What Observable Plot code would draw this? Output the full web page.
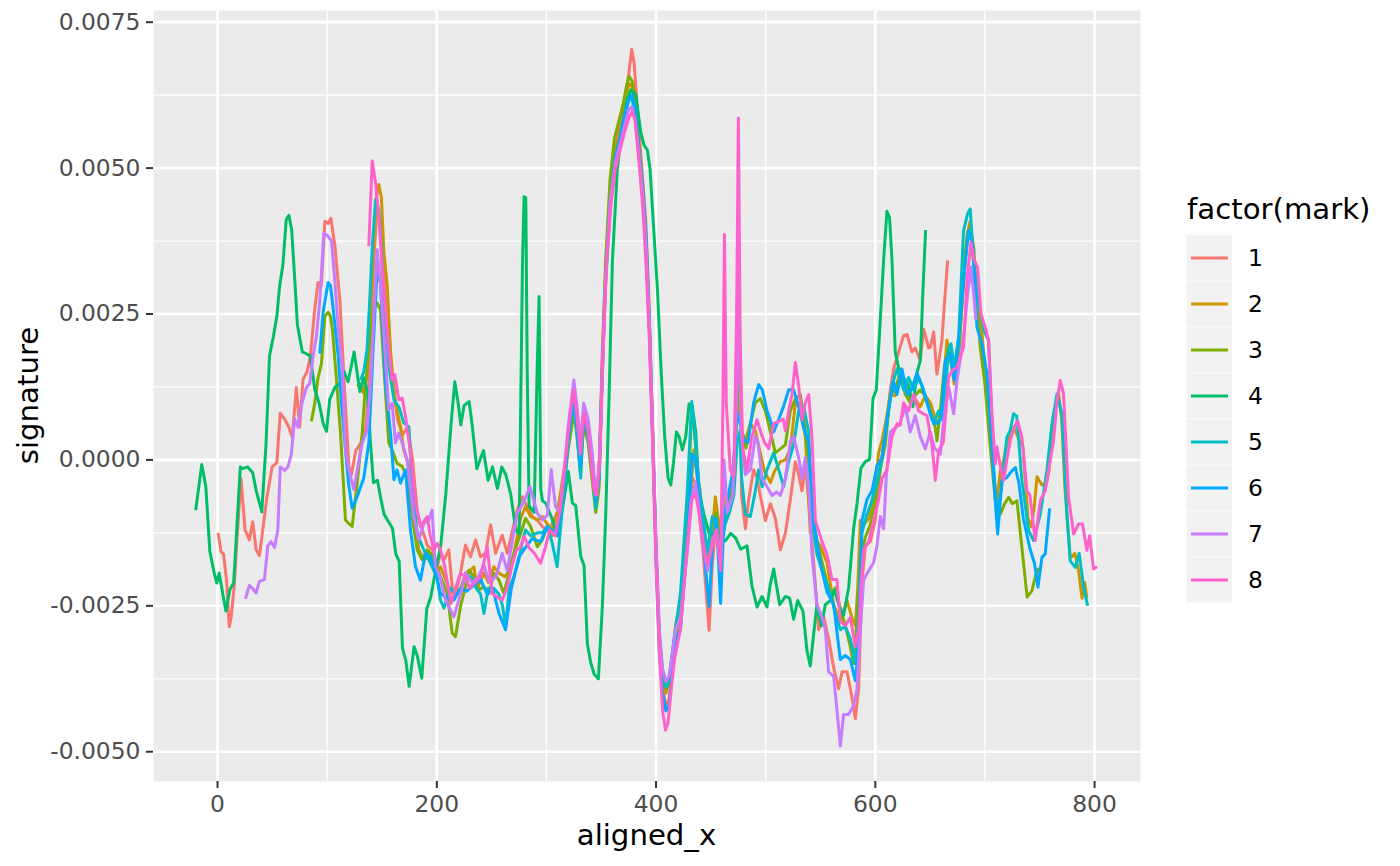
<!DOCTYPE html>
<html><head><meta charset="utf-8">
<script src="https://cdn.jsdelivr.net/npm/d3@7"></script>
<script src="https://cdn.jsdelivr.net/npm/@observablehq/plot@0.6"></script>
<style>
body{margin:0;background:#fff;}
svg{font-family:"DejaVu Sans",sans-serif;}
</style>
</head><body><div id="chart"></div>
<script>
// categories and colours
const marks = ["1","2","3","4","5","6","7","8"];
const colors = ["#F8766D","#CD9600","#7CAE00","#00BE67","#00BFC4","#00A9FF","#C77CFF","#FF61CC"];

// series values: [aligned_x, signature in units of 1e-3]
const mark1 = [[0.6,-1.25],[3.1,-1.57],[5.5,-1.61],[8.3,-2.08],[10.7,-2.86],[12.5,-2.69],[15.3,-2.15],[18.3,-1.2],[21.4,-0.32],[25.1,-1.2],[29,-1.37],[32.1,-1.06],[35.2,-1.54],[38.2,-1.64],[41.3,-1.2],[44.9,-0.66],[49.8,-0.12],[54.1,-0.05],[57.2,0.8],[61.2,0.7],[65.1,0.56],[68.2,0.39],[71.9,1.24],[74.9,0.56],[78,1.38],[81.7,1.51],[84.7,1.78],[88.7,2.59],[91.7,3.04],[94.8,3.0],[97.9,4.09],[100.9,4.05],[103.4,4.14],[107,3.68],[111.6,2.73],[116.2,1.1],[119.8,-0.11],[122.2,-0.25],[126.1,0.16],[130.7,0.29],[135.3,0.56],[139.2,1.65],[142.5,3.4],[145.5,4.3],[148.5,4.1],[152,3.2],[155,2.59],[159.6,1.38],[164.1,0.7],[168.7,0.43],[173.3,0.56],[177.8,0.02],[182.4,-0.93],[186.9,-1.2],[191.5,-1.47],[196,-1.54],[200.6,-1.81],[203.4,-1.6],[207,-1.7],[211,-1.54],[214.3,-2.22],[217.1,-2.29],[221.6,-1.94],[226.2,-1.46],[230.8,-1.66],[235.4,-1.37],[239.9,-1.66],[244.5,-1.6],[249.1,-1.11],[253.6,-1.6],[259.7,-1.29],[264.3,-1.6],[268.8,-1.23],[273.4,-0.86],[278,-0.63],[282.5,-0.8],[287.1,-0.97],[291.7,-1.03],[296.2,-1.14],[300.8,-1.2],[305,-1.1],[310,-0.9],[315,-0.4],[320,0.4],[325,1.1],[328,0.6],[331,-0.1],[334,0.8],[338,0.5],[342,-0.2],[345,-0.7],[348,-0.2],[351,1.9],[354,3.3],[358,4.6],[363,5.4],[367,5.7],[371,6.1],[375,6.6],[377.8,7.03],[380,6.8],[383,6.0],[387,5.0],[390.6,4.1],[393.6,2.7],[396.7,0.6],[399.7,-1.4],[402.7,-3.0],[405.8,-3.9],[408.8,-4.2],[411.9,-4.1],[414.9,-3.5],[418,-3.2],[422.3,-2.8],[428.4,-1.5],[433,-0.3],[436,-0.4],[439.2,-0.9],[443,-1.6],[448.4,-2.92],[451.3,-1.8],[455,-1.0],[458.9,-1.5],[462,-0.4],[466,-0.9],[470,-0.5],[474,1.2],[476.5,2.0],[478,-0.6],[481.5,-1.18],[484.5,-0.68],[489,-0.17],[492,-0.3],[495.1,-0.61],[499.7,-1.04],[504.3,-0.75],[508.8,-1.0],[513.4,-1.54],[518,-1.25],[522.5,-0.68],[527.1,-0.03],[530.1,-0.25],[533.1,-0.53],[536.2,-0.1],[539.2,-0.68],[543.8,-1.76],[548.3,-2.91],[552.9,-2.69],[557.4,-3.06],[562,-3.56],[566.6,-3.92],[569.6,-3.63],[574.2,-3.63],[578.7,-4.07],[581.8,-4.43],[584.8,-3.92],[587.8,-2.12],[590.9,-1.47],[595.4,-1.4],[600,-1.04],[604.6,-0.1],[609.1,0.4],[613.7,1.2],[616.7,1.56],[621.3,1.85],[625.8,2.13],[629,2.15],[633.4,1.85],[636.5,1.92],[641,1.7],[644.1,2.24],[648.6,1.92],[650.2,1.93],[653.2,2.19],[656.2,1.47],[660.8,2.05],[663.5,2.8],[666,3.42]];

const mark2 = [[127.4,1.26],[130,1.3],[133,1.15],[136,1.4],[139,2.2],[142,3.6],[145,4.5],[147.1,4.72],[149.5,4.5],[151.7,3.57],[154.8,2.99],[157.8,1.84],[162.3,0.97],[166.9,0.57],[169.9,0.17],[174.5,-0.11],[179,-0.68],[183.6,-1.54],[188.1,-1.71],[194.2,-1.66],[200.3,-1.89],[203.4,-1.83],[207,-2.0],[212.5,-2.29],[217,-2.2],[221,-2.25],[226.2,-1.94],[230,-1.9],[233.8,-1.83],[237,-2.2],[243,-1.94],[247,-2.1],[252.1,-1.83],[256.7,-1.94],[262,-2.0],[266,-1.9],[270.4,-1.6],[276.5,-1.0],[281,-0.8],[285.6,-0.97],[291.7,-1.03],[296.2,-0.97],[300.8,-1.1],[305,-1.2],[310,-0.9],[315,-0.3],[320,0.3],[325,0.9],[328,0.5],[331,0.1],[334,0.7],[338,0.4],[342,-0.3],[345,-0.8],[348,-0.4],[351,1.6],[354,3.2],[358,4.5],[363,5.3],[367,5.6],[371,6.0],[375,6.45],[378,6.4],[381,6.1],[384,5.4],[388,4.7],[391,3.8],[394,2.3],[397,0.4],[400,-1.5],[403,-3.0],[406,-3.7],[409,-4.0],[412,-3.8],[415,-3.3],[418,-2.8],[422,-2.5],[428,-1.4],[434.5,0.17],[437,-0.2],[440,-0.5],[444,-1.3],[448,-1.8],[451,-1.3],[454.1,-0.63],[458,-1.2],[462,-0.7],[466,-0.8],[470,-0.3],[474,0.8],[476.5,1.2],[478,0.4],[481,0.3],[486,0.62],[490.6,0.5],[495.1,0.12],[499,-0.2],[504.3,-0.39],[508,-0.2],[513.4,-0.03],[518,0.0],[522.5,0.19],[527.1,0.98],[531,0.9],[536.2,0.4],[540.7,-1.25],[545,-1.35],[549.8,-1.47],[555.9,-1.76],[562,-2.48],[568.1,-2.77],[574.2,-2.41],[578.7,-2.7],[581.8,-2.84],[584,-2.2],[586.3,-1.04],[590,-1.1],[594,-1.0],[598.5,-0.61],[603,0.12],[606.1,0.33],[610,0.7],[613.7,1.12],[618,1.1],[622.8,1.56],[627,1.3],[631.9,0.98],[636,1.05],[641,0.91],[645.6,1.1],[650.2,0.98],[656.2,0.62],[660,0.75],[665.3,2.05],[669,1.7],[672,1.3],[676,1.9],[680.5,3.0],[683,3.7],[686,4.07],[689,3.5],[692,3.0],[695.7,2.5],[700.3,1.53],[704.9,0.45],[708,-0.3],[711,-0.7],[714,-0.2],[717,0.0],[720,0.27],[726.1,0.56],[730,0.4],[734.7,0.22],[737,-0.4],[739.3,-1.0],[742.4,-1.15],[745,-0.8],[747.5,-0.29],[752,-0.43],[756,-0.41],[758.5,-0.18],[762.6,0.79],[767.2,1.13],[770,0.7],[773,-0.5],[777.8,-1.67],[779.4,-1.66],[782,-1.6],[785.4,-1.9],[788.6,-2.37],[791,-2.1],[793,-2.37]];

const mark3 = [[85.6,0.66],[88.7,0.97],[91.7,1.41],[94.8,1.65],[97.9,2.46],[100.9,2.53],[103,2.46],[105,2.2],[107.6,1.6],[112.2,0.46],[116.7,-1.03],[119.8,-1.09],[122.8,-1.14],[127.4,-0.4],[132,0.46],[135,1.31],[139.6,2.17],[142.5,2.6],[145.6,2.69],[148.6,2.57],[151.7,1.6],[156.2,0.29],[159.3,0.17],[163.8,-0.06],[168.4,-0.11],[173,-0.29],[177.5,-0.97],[182.1,-1.54],[186.6,-1.71],[191.2,-1.54],[197.3,-1.66],[203.4,-2.0],[209.5,-2.29],[214.1,-2.97],[217.1,-3.03],[221.6,-2.51],[226.2,-2.17],[229.3,-1.89],[233.8,-2.0],[238.4,-2.23],[243,-2.17],[247.5,-2.29],[252.1,-1.94],[256.7,-2.06],[261.2,-2.29],[265.8,-1.94],[270.4,-1.6],[276.5,-1.26],[281,-1.0],[285.6,-1.14],[291.7,-1.49],[296.2,-1.37],[300.8,-1.14],[305,-1.3],[310,-1.1],[315,-0.6],[320,0.2],[325,0.8],[328,0.4],[331,-0.2],[334,0.6],[338,0.3],[342,-0.4],[345,-0.9],[348,-0.5],[351,1.7],[354,3.4],[358,4.8],[362,5.5],[366,5.8],[370,6.1],[373,6.4],[375.4,6.57],[378,6.5],[381,6.2],[384,5.5],[388,4.6],[391,3.6],[394,2.2],[397,0.3],[400,-1.6],[403,-3.0],[406,-3.6],[409,-3.8],[413.4,-3.87],[416,-3.4],[419,-2.9],[422.3,-2.5],[428,-1.2],[432.6,0.9],[435,0.5],[439,-0.5],[443,-1.2],[447,-1.6],[451,-1.1],[455,-0.9],[459,-1.5],[463,-1.0],[467,-0.9],[471,-0.2],[474,0.9],[476.5,1.3],[478.5,0.5],[482,0.2],[486,0.62],[490.6,0.98],[495.1,1.05],[499.7,0.84],[504.3,0.48],[508.8,0.12],[513.4,0.19],[518,0.26],[522.5,0.84],[527.1,1.05],[531.6,1.12],[536.2,0.48],[540.7,-0.32],[545.3,-1.25],[549.8,-1.62],[554.4,-1.98],[559,-2.34],[563.5,-2.19],[568.1,-2.55],[572.6,-2.84],[577.2,-3.2],[580.2,-3.49],[583,-2.8],[586.3,-1.69],[590.9,-1.33],[595.4,-1.11],[600,-0.68],[604.6,-0.17],[609.1,0.26],[613.7,1.12],[618,1.2],[622.8,1.49],[627.4,1.12],[631.9,0.98],[636,1.1],[641,1.2],[645.6,1.1],[650.2,0.84],[654.7,0.55],[656.2,0.33],[659.3,0.84],[663,1.6],[666.9,1.93],[670,1.7],[674,1.4],[677,2.0],[680.5,3.2],[684,3.9],[687,4.0],[690,3.6],[693,2.6],[695.7,1.93],[700,1.3],[704,0.4],[708,-0.4],[711,-0.93],[714,-0.93],[718,-0.75],[721.6,-0.64],[725,-0.75],[729.2,-0.7],[733.7,-1.5],[738.5,-2.35],[742.9,-2.24],[746,-2.0],[749,-1.85]];

const mark4 = [[-19.9,-0.86],[-14.4,-0.08],[-10.7,-0.45],[-7,-1.57],[-3,-1.94],[-0.6,-2.11],[1.5,-1.94],[7.6,-2.59],[11.3,-2.22],[14.7,-2.11],[20.8,-0.12],[22.9,-0.15],[27.5,-0.12],[32.1,-0.22],[35.2,-0.52],[40.4,-0.89],[44.3,0.29],[47.4,1.78],[51,2.12],[54.1,2.46],[56.6,2.97],[59.6,3.34],[62.7,4.12],[65.1,4.19],[67.6,3.95],[70.3,3.14],[72.8,2.32],[77.4,1.85],[81,1.82],[84.7,1.78],[88.7,1.21],[92.7,0.97],[96.3,0.63],[99.4,0.49],[102.4,1.04],[107,1.24],[111.6,1.31],[115.5,1.51],[119.1,1.34],[124.6,1.85],[129.8,1.17],[133.1,1.41],[136.8,1.17],[139.5,0.3],[142.2,-0.39],[145.9,-0.35],[148.9,-0.66],[151.9,-0.93],[155,-1.03],[159.6,-1.17],[162.6,-1.61],[165.7,-1.74],[168.7,-3.23],[171.7,-3.43],[174.8,-3.88],[179.3,-3.2],[182.4,-3.37],[186.3,-3.74],[190.9,-2.55],[194.5,-2.35],[199.1,-1.88],[203.6,-1.47],[208.2,-0.59],[212.8,0.56],[216.4,1.34],[219.5,0.97],[221.9,0.6],[224.9,0.93],[229.5,1.0],[232.5,0.56],[236.5,-0.15],[242.6,0.16],[246.8,-0.35],[250.8,-0.12],[255.3,-0.49],[259.3,-0.12],[262.9,-0.25],[267.5,-0.59],[272,-1.2],[275.1,-1.27],[278.1,3.27],[279.6,4.51],[281.2,4.49],[282.5,1.5],[284.2,-0.79],[288.8,-0.9],[291.5,1.5],[293.3,2.8],[294.8,-0.5],[296.4,-0.7],[299.4,-0.74],[305,-1.0],[310,-1.3],[315,-0.8],[320,-0.2],[323.7,-0.74],[326.7,-0.78],[331.3,-1.65],[334.3,-1.81],[337.4,-3.16],[340.4,-3.47],[343.5,-3.67],[347.4,-3.75],[351,-2.52],[354.1,-0.94],[357.1,1.04],[360.2,3.41],[364.7,4.99],[369.3,5.7],[373.9,6.18],[376.9,6.34],[381.5,6.26],[386,5.62],[389.1,5.39],[392.1,5.31],[394.5,4.99],[397.6,4.04],[401.2,2.94],[404.9,1.43],[407.9,0.4],[411,-0.31],[413.4,-0.43],[415.8,-0.07],[418.6,0.48],[421,0.4],[424,0.17],[427.1,0.4],[430.1,0.96],[433.1,0.92],[436.2,0.48],[439.2,-0.55],[443.8,-0.94],[448.4,-1.26],[452.9,-1.26],[459,-1.42],[463.5,-1.38],[468.1,-1.26],[472.7,-1.34],[477.2,-1.53],[483,-1.47],[487.5,-2.16],[492.1,-2.52],[496.7,-2.34],[501.2,-2.52],[504.3,-2.12],[507.3,-1.87],[512.8,-2.48],[518,-2.34],[521.9,-2.37],[525.5,-2.73],[529.2,-2.41],[534,-2.59],[537.7,-3.27],[540.7,-3.53],[543.8,-2.98],[546.8,-2.48],[550.8,-2.84],[554.4,-2.48],[559,-2.41],[562.9,-2.23],[566.6,-2.48],[571.1,-2.66],[575.7,-2.19],[580.2,-1.18],[583.3,-0.75],[586.9,-0.14],[590.9,-0.03],[594.8,0.01],[597.9,1.05],[600.9,1.2],[604.6,2.42],[607.6,3.43],[610.6,4.26],[613,4.15],[615.2,3.43],[618.2,1.85],[622.2,1.49],[625.8,1.41],[630.4,1.27],[634.3,0.91],[638,1.49],[641,1.7],[643.5,2.93],[645.9,3.94]];

const mark5 = [[130.4,1.37],[133.4,1.51],[136.4,1.89],[139,2.8],[141,3.6],[144.1,4.46],[147.1,4.29],[149.5,3.6],[151.7,2.74],[156.2,1.6],[160.9,1.03],[165.4,0.91],[170,0.63],[174.5,0.57],[177.5,-0.4],[182.1,-1.26],[188.1,-1.54],[194.2,-1.77],[200,-2.0],[203.4,-2.4],[206.5,-2.54],[212.5,-2.2],[217,-2.3],[221.6,-2.25],[226,-2.0],[230.8,-2.0],[236,-2.2],[240,-2.3],[243,-2.63],[247,-2.2],[252,-2.2],[256.7,-2.3],[260,-2.5],[262.7,-2.86],[266,-2.2],[270.4,-2.0],[274.9,-1.71],[278,-1.4],[281,-1.2],[285.6,-1.3],[291.7,-1.25],[296.2,-1.25],[300.8,-1.14],[305,-1.4],[309.8,-1.83],[314.3,-0.86],[318,-0.1],[321,0.6],[325,1.15],[328,0.4],[331.3,-0.31],[334.3,0.9],[338,0.6],[342,0.0],[344.8,-0.83],[348,-0.3],[351,1.5],[354,3.0],[358,4.3],[363,5.2],[367,5.5],[371,5.85],[375,6.15],[378,6.2],[381,5.9],[384,5.3],[388,4.6],[391,3.8],[394,2.3],[397,0.4],[400,-1.6],[403,-3.1],[406,-3.7],[409,-3.9],[412,-3.75],[416.2,-3.1],[422.3,-2.29],[428.4,-0.57],[432.6,1.0],[436,0.3],[439,-0.4],[443,-1.0],[446.8,-1.6],[451.3,-0.97],[455,-1.1],[459,-1.6],[463,-1.1],[467,-0.9],[471,-0.6],[474,0.3],[476.5,0.5],[478,-0.3],[481.5,-0.93],[486,-0.97],[490.6,-0.53],[493.6,-0.17],[496.7,-0.46],[501.2,-0.17],[507.3,0.12],[511.9,-0.17],[516.4,-0.46],[521,-0.03],[525.5,0.26],[530.1,0.84],[534.7,0.91],[539.2,0.48],[542.2,-1.04],[546.8,-1.62],[552.9,-1.98],[557.4,-2.19],[563.5,-2.62],[568.1,-2.91],[572.6,-2.85],[577.2,-3.06],[581.8,-3.49],[584.5,-2.8],[587.8,-1.25],[592,-0.95],[596,-0.75],[601.5,-0.39],[606.1,0.04],[610.6,0.62],[615.2,1.27],[619.8,1.56],[625.8,1.2],[630.4,1.41],[635,1.2],[639.5,1.41],[644,1.2],[648.6,0.91],[653.2,0.62],[657.8,0.84],[662.3,0.67],[666.9,1.93],[669,1.99],[672,1.59],[676,2.1],[680.5,3.93],[684.2,4.22],[686.6,4.3],[689.7,3.36],[694.2,2.73],[699,2.22],[703.3,2.05],[707.9,-0.13],[711,-0.9],[715,-0.5],[720,0.39],[723,0.5],[726.1,0.79],[729,0.75],[733.7,-0.35],[739.8,-1.21],[744.4,-1.38],[750.5,-0.93],[756.5,-0.18],[761,0.6],[765.7,1.13],[770.2,0.79],[774.8,-0.93],[777.8,-1.73],[782.4,-1.84],[786,-1.6],[790,-2.18],[793.7,-2.5]];

const mark6 = [[93.3,1.82],[96.3,2.53],[100.9,3.04],[103,2.99],[105.5,2.59],[110.1,1.78],[113.1,0.97],[116.7,0.17],[119.5,-0.4],[122.8,-0.83],[127.4,-0.63],[133.4,-0.31],[138,0.29],[141.9,1.89],[145.6,3.26],[148.6,3.03],[153.2,1.31],[157.8,0.46],[160.9,-0.34],[163.8,-0.17],[166.9,-0.4],[171.5,-0.17],[176,-1.2],[180.6,-1.83],[185.1,-2.06],[189.7,-1.6],[194.2,-1.66],[200,-2.0],[203.4,-2.29],[208,-2.35],[215.6,-2.4],[221.6,-2.2],[227,-2.25],[233.8,-2.15],[240,-2.05],[246,-2.3],[251,-2.2],[256.7,-2.63],[262.7,-2.91],[268,-2.2],[274.9,-1.66],[281,-1.5],[287,-1.35],[294.7,-1.4],[300.8,-1.14],[305,-1.2],[310,-1.3],[314,-0.7],[318,0.0],[321,0.5],[325,1.0],[328,0.5],[331,-0.1],[334,0.8],[338,0.4],[342,-0.2],[345,-0.7],[348,-0.3],[351,1.5],[354,3.1],[358,4.4],[363,5.2],[367,5.5],[371,5.9],[375,6.2],[378,6.25],[381,6.0],[384,5.4],[388,4.6],[391,3.7],[394,2.2],[397,0.3],[400,-1.7],[403,-3.3],[406,-4.0],[409,-4.3],[412,-4.2],[415,-3.6],[418,-3.1],[422.3,-2.9],[428.4,-1.4],[433,0.1],[436,0.0],[439.2,-0.6],[443,-1.4],[448.4,-2.51],[451.3,-1.5],[455,-1.0],[458.9,-2.46],[462,-1.0],[466,-0.6],[470,-0.2],[474,0.8],[477,0.6],[480.1,0.34],[484,0.3],[489,0.98],[493.6,1.29],[497,1.2],[501.2,0.84],[504,0.7],[507.3,0.48],[512,0.7],[516,0.9],[521,1.2],[525.5,1.2],[530.1,0.91],[534.7,0.55],[539,0.3],[543.8,-1.04],[549.8,-1.76],[555.9,-2.26],[562,-2.48],[568.1,-3.42],[572.6,-3.35],[577.2,-3.42],[581.8,-3.78],[584.8,-3.2],[587.8,-1.04],[592.4,-0.68],[597,-0.53],[601.5,-0.1],[606.1,0.04],[610.6,0.69],[613.7,1.05],[616.7,1.34],[619.8,1.12],[624.3,1.56],[628.9,1.12],[633,1.2],[638,1.49],[642.6,1.27],[647.1,0.98],[651.7,0.69],[656.2,0.62],[660,0.7],[663.8,1.7],[667.8,1.82],[672,1.36],[676,2.05],[680.5,3.07],[685.1,3.93],[689.1,3.65],[692.7,2.27],[697.3,1.99],[701.8,1.47],[706.4,0.22],[709,-0.6],[711.6,-1.27],[715.5,-0.35],[720,-0.3],[724,-0.2],[727.7,-0.13],[731,-0.4],[735,-1.0],[740.8,-1.5],[745.3,-1.78],[748.4,-2.18],[752,-1.67],[755,-1.61],[759,-0.83]];

const mark7 = [[25.5,-2.38],[29,-2.15],[32,-2.2],[35.2,-2.28],[38.2,-2.08],[42.8,-2.05],[45.9,-1.47],[48.9,-1.4],[52,-1.5],[55,-1.2],[57.2,-0.12],[61.2,-0.18],[64.2,-0.12],[67.3,0.09],[70.3,0.7],[73.4,0.56],[76.5,0.93],[81,1.24],[84.1,1.31],[87.2,1.78],[90.2,2.12],[93.3,2.73],[96.9,3.88],[100,3.85],[104,3.75],[107,3.07],[110.1,2.26],[113.7,1.6],[116.7,0.17],[119.8,-0.17],[124.4,-0.51],[127.4,-0.17],[132,0.29],[136.4,0.51],[139.6,1.31],[142.6,2.46],[145.6,3.6],[148.6,3.03],[151.7,2.17],[156.2,0.86],[159.3,0.97],[162.3,0.29],[165.4,0.46],[168.4,0.29],[173,0.0],[179,-0.97],[183.6,-1.37],[188.1,-1.09],[192.7,-1.03],[195.7,-0.86],[198.8,-1.83],[203,-2.0],[208,-2.4],[215.6,-2.69],[221.6,-2.3],[226.2,-1.94],[232,-2.1],[238,-2.0],[243,-1.8],[248,-2.1],[254,-2.0],[259.7,-1.6],[264.3,-1.9],[268.8,-1.4],[273.4,-0.91],[278.9,-0.74],[285,-0.46],[291.7,-0.91],[296.2,-1.03],[300.8,-0.95],[304.4,-0.17],[308.3,-0.8],[312,-0.9],[316,-0.2],[320,0.6],[325,1.37],[328,0.9],[331,0.3],[334.1,0.97],[338,0.7],[342,0.1],[345,-0.6],[348,-0.2],[351,1.6],[354,3.1],[358,4.4],[363,5.1],[367,5.4],[371,5.7],[375,6.0],[378,6.05],[381,5.8],[384,5.3],[388,4.5],[391,3.6],[394,2.3],[397,0.5],[400,-1.4],[403,-2.9],[406,-3.6],[409,-3.8],[412,-3.7],[415,-3.3],[418,-2.9],[422.3,-2.7],[428.4,-1.6],[433,-0.6],[436,-0.4],[439,-0.8],[443,-1.5],[447,-1.9],[451,-1.4],[455,-1.2],[459,-1.8],[462,0.0],[465,-0.9],[470,-0.6],[473,0.8],[475.5,3.0],[477.5,0.5],[481.5,-0.25],[486,-0.17],[490.6,0.4],[493,0.3],[496.7,-0.32],[501.2,-0.46],[505.8,-0.61],[510,-0.55],[513.4,-0.61],[518,-0.32],[522.5,0.33],[525.5,0.4],[530.1,0.04],[533.1,-0.32],[536.2,0.04],[539.2,-0.46],[542.2,-1.62],[546.8,-2.48],[551.4,-2.7],[554.4,-2.91],[557.4,-3.63],[562,-3.71],[565,-4.28],[568.1,-4.9],[571.1,-4.36],[575.7,-4.36],[580.2,-4.21],[583.3,-3.92],[586,-3.0],[589.4,-2.05],[594,-1.9],[598.5,-1.76],[601.5,-1.47],[604.6,-0.97],[607.6,-1.18],[610,-0.3],[613.7,0.48],[618.2,0.55],[622,0.6],[627.4,0.91],[631.9,0.48],[636.5,0.76],[641,0.4],[645.6,0.19],[650.2,0.48],[654,0.2],[659.3,0.1],[662.3,0.67],[666.9,1.25],[671.5,0.79],[674.5,1.36],[680.5,2.1],[684,2.8],[687.2,3.3],[689.5,2.9],[691.8,2.39]];

const mark8 = [[138,3.66],[141.1,5.12],[144.1,4.75],[147.1,4.17],[150.2,3.31],[153.2,2.57],[156.2,1.89],[159.3,1.37],[161.7,1.46],[165.4,1.03],[168.4,1.06],[171.5,0.74],[174.5,0.34],[177.5,-0.17],[180.6,-0.74],[185.1,-1.14],[191.2,-0.97],[194.2,-1.31],[197.3,-1.54],[200.3,-1.43],[203.4,-1.54],[207,-1.8],[213,-2.46],[217,-2.2],[221.6,-1.94],[226,-2.0],[230,-2.2],[235,-2.1],[240,-2.0],[246,-1.49],[250.6,-2.29],[255,-2.35],[259.7,-2.4],[264,-2.2],[268.8,-1.8],[272.8,-1.54],[276,-1.5],[279.8,-1.31],[284,-1.5],[289,-1.6],[294.7,-1.77],[299,-1.5],[303,-1.2],[308,-1.3],[313,-0.8],[318,0.1],[321,0.7],[325,1.2],[328,0.7],[331,0.1],[334,0.8],[338,0.5],[343.3,-0.51],[346,-0.6],[349,0.2],[352,2.0],[355,3.4],[359,4.4],[363,5.0],[367,5.3],[371,5.6],[375,5.85],[378.5,5.98],[381,5.8],[384,5.2],[388,4.3],[391,3.3],[394,2.0],[397,0.2],[400,-1.8],[403,-3.3],[406,-4.3],[408.6,-4.63],[411,-4.5],[414,-3.9],[417,-3.4],[422.3,-2.9],[428.4,-1.5],[432,-0.7],[436,-0.57],[439.2,-0.9],[443,-1.4],[446.8,-1.8],[451,-1.5],[455,-1.2],[459,-1.9],[461,1.0],[462.4,3.86],[464,1.0],[467.7,-0.17],[471,-0.3],[473.5,2.5],[475.1,5.86],[476.8,2.0],[479,0.2],[483,-0.17],[487.5,0.4],[492.1,0.69],[496,0.45],[499,0.3],[502.7,0.19],[507.3,0.62],[511.9,0.66],[516,0.7],[518,0.5],[521,0.84],[524,1.12],[527.1,1.67],[530.1,1.27],[533.1,0.69],[536.2,0.98],[539.2,1.12],[542.2,0.4],[545.3,-1.04],[551.4,-1.4],[555.9,-1.62],[560.5,-2.05],[565,-2.05],[568.1,-2.77],[572.6,-2.84],[577.2,-2.7],[581.8,-3.2],[584.8,-2.91],[587,-2.12],[589.4,-1.54],[594,-1.4],[598.5,-1.04],[603,-0.68],[606.1,-0.32],[610.6,-0.17],[615.2,0.4],[619.8,0.62],[622.8,0.6],[625.8,0.98],[630.4,0.84],[635,1.12],[639.5,0.84],[643,0.8],[647.1,0.76],[651.7,0.26],[654.7,-0.35],[657.8,0.16],[662,0.3],[666.9,1.42],[670,1.53],[674.5,1.59],[680.5,1.93],[683.6,3.07],[687.2,3.73],[690.3,3.42],[693.3,3.3],[696.4,2.5],[700.3,2.27],[703.3,2.05],[706.4,0.79],[709.4,-0.07],[711,0.22],[714,-0.1],[717,-0.35],[720,0.0],[723.1,0.33],[726.5,0.55],[729.8,0.67],[733.7,0.39],[738.3,-0.53],[741,-0.6],[745.9,-1.38],[750.5,-0.7],[755,-0.53],[758.7,-0.1],[762.6,0.33],[765.7,1.0],[768.7,1.36],[771.7,1.13],[776.3,-0.64],[780.9,-1.27],[785.4,-1.1],[789,-1.1],[793,-1.55],[795.5,-1.3],[799.1,-1.87],[802.3,-1.83]];

// tick values and labels
const xMajor = [0, 200, 400, 600, 800];
const xMinor = [100, 300, 500, 700];
const yMajor = [-0.005, -0.0025, 0, 0.0025, 0.005, 0.0075];
const yMinor = [-0.00375, -0.00125, 0.00125, 0.00375, 0.00625];
const yTickLabels = ["-0.0050", "-0.0025", "0.0000", "0.0025", "0.0050", "0.0075"];
const xTickLabels = ["0", "200", "400", "600", "800"];

const seriesList = [mark1, mark2, mark3, mark4, mark5, mark6, mark7, mark8];
const rows = seriesList.flatMap((s, i) => s.map(([x, y]) => ({mark: marks[i], aligned_x: x, signature: y / 1000})));

const W = 1400, H = 866;
const mL = 153, mR = 260, mT = 10, mB = 85;
const tickFont = 23.4, titleFont = 29.2;

const chart = Plot.plot({
  width: W, height: H,
  marginLeft: mL, marginRight: mR, marginTop: mT, marginBottom: mB,
  style: {background: "#ffffff", fontFamily: "DejaVu Sans, sans-serif", overflow: "visible"},
  x: {domain: [-58.4, 841.9], label: null},
  y: {domain: [-0.00551, 0.0077], label: null},
  color: {domain: marks, range: colors},
  marks: [
    Plot.frame({fill: "#EBEBEB", stroke: null}),
    Plot.gridX(xMinor, {stroke: "#ffffff", strokeOpacity: 1, strokeWidth: 1.3}),
    Plot.gridY(yMinor, {stroke: "#ffffff", strokeOpacity: 1, strokeWidth: 1.3}),
    Plot.gridX(xMajor, {stroke: "#ffffff", strokeOpacity: 1, strokeWidth: 2.6}),
    Plot.gridY(yMajor, {stroke: "#ffffff", strokeOpacity: 1, strokeWidth: 2.6}),
    Plot.line(rows, {x: "aligned_x", y: "signature", z: "mark", stroke: "mark", strokeWidth: 3, strokeLinejoin: "round", strokeLinecap: "butt"}),
    Plot.axisX(xMajor, {tickSize: 7, tickPadding: 7, fontSize: tickFont, stroke: "#333333", strokeWidth: 2, fill: "#4D4D4D", label: null,
      tickFormat: d => xTickLabels[xMajor.indexOf(d)]}),
    Plot.axisY(yMajor, {tickSize: 7, tickPadding: 6, fontSize: tickFont, stroke: "#333333", strokeWidth: 2, fill: "#4D4D4D", label: null,
      tickFormat: d => yTickLabels[yMajor.indexOf(d)]})
  ]
});

document.getElementById("chart").appendChild(chart);

// axis titles and legend drawn into the same svg
const svg = d3.select(chart);
svg.append("text").attr("x", (mL + W - mR) / 2).attr("y", 845).attr("text-anchor", "middle")
  .attr("font-size", titleFont).attr("fill", "#000").text("aligned_x");
svg.append("text").attr("transform", `translate(38,${(mT + H - mB) / 2}) rotate(-90)`).attr("text-anchor", "middle")
  .attr("font-size", titleFont).attr("fill", "#000").text("signature");

const colorScale = chart.scale("color");
const lg = svg.append("g").attr("class", "legend").attr("text-anchor", "start");
lg.append("text").attr("x", 1187).attr("y", 218.5).attr("text-anchor", "start").attr("font-size", titleFont).attr("fill", "#000").text("factor(mark)");
const keyTop = 235, keyH = 46;
marks.forEach((m, i) => {
  const y0 = keyTop + i * keyH;
  lg.append("rect").attr("x", 1186.5).attr("y", y0).attr("width", 46).attr("height", keyH).attr("fill", "#F2F2F2").attr("stroke", "#ffffff").attr("stroke-width", 0.6);
  lg.append("line").attr("x1", 1191).attr("x2", 1228).attr("y1", y0 + keyH / 2).attr("y2", y0 + keyH / 2)
    .attr("stroke", colorScale.apply(m)).attr("stroke-width", 3);
  lg.append("text").attr("x", 1248).attr("y", y0 + keyH / 2 + 8.4).attr("text-anchor", "start").attr("font-size", tickFont).attr("fill", "#000").text(m);
});
</script>
</body></html>
